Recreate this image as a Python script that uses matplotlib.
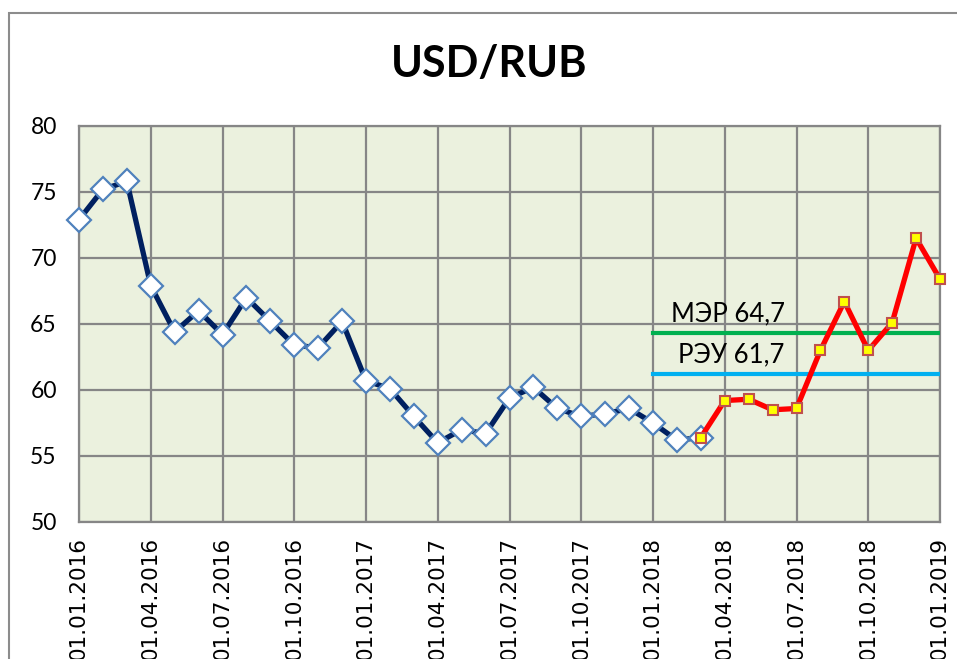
import matplotlib
matplotlib.use("Agg")
import matplotlib.pyplot as plt
from matplotlib.patches import Rectangle

# ---- data ----
months_hist = list(range(0, 27))          # 01.01.2016 .. 01.03.2018 (monthly index)
usd_hist = [72.9, 75.2, 75.8, 67.9, 64.4, 66.0, 64.2, 67.0, 65.2, 63.4, 63.2, 65.2,
            60.7, 60.1, 58.0, 56.0, 57.0, 56.7, 59.4, 60.2, 58.6, 58.0, 58.2, 58.6,
            57.5, 56.2, 56.4]
months_new = list(range(26, 37))          # 01.03.2018 .. 01.01.2019
usd_new = [56.4, 59.2, 59.3, 58.5, 58.6, 63.0, 66.7, 63.0, 65.1, 71.5, 68.4]
forecast_span = [24, 36]
mer_level = 64.3
reu_level = 61.2
mer_label = "МЭР 64,7"
reu_label = "РЭУ 61,7"
tick_pos = list(range(0, 37, 3))
tick_labels = ["01.01.2016", "01.04.2016", "01.07.2016", "01.10.2016",
               "01.01.2017", "01.04.2017", "01.07.2017", "01.10.2017",
               "01.01.2018", "01.04.2018", "01.07.2018", "01.10.2018",
               "01.01.2019"]
y_ticks = [50, 55, 60, 65, 70, 75, 80]

W, H = 957, 659
fig = plt.figure(figsize=(W / 100, H / 100), dpi=100)
fig.patch.set_facecolor("white")

# outer frame
fig.add_artist(Rectangle((9 / W, -0.1), 1.2, (H - 13) / H + 0.1, transform=fig.transFigure,
                         fill=False, edgecolor="#8c8c8c", linewidth=1.5))

left, right, top, bottom = 79, 940, 126, 522
ax = fig.add_axes([left / W, (H - bottom) / H, (right - left) / W, (bottom - top) / H])
ax.set_facecolor("#EBF1DE")

ax.set_xlim(0, 36)
ax.set_ylim(50, 80)
ax.set_xticks(tick_pos)
ax.set_xticklabels(tick_labels, rotation=90, fontsize=15.5, family="DejaVu Sans",
                   color="#000000", va="top")
ax.set_yticks(y_ticks)
ax.set_yticklabels([str(v) for v in y_ticks], fontsize=16.5, family="Lato")
ax.tick_params(axis="both", length=0)
ax.tick_params(axis="x", pad=10.5)
ax.tick_params(axis="y", pad=16)
ax.grid(True, color="#868686", linewidth=1.6)
ax.set_axisbelow(True)
for s in ax.spines.values():
    s.set_color("#868686")
    s.set_linewidth(1.6)

ax.plot(forecast_span, [mer_level, mer_level], color="#00B050", linewidth=3, zorder=3)
ax.plot(forecast_span, [reu_level, reu_level], color="#00B0F0", linewidth=3, zorder=3)

ax.plot(months_hist, usd_hist, color="#002060", linewidth=3.8, marker="D",
        markersize=12, markerfacecolor="white", markeredgecolor="#4F81BD",
        markeredgewidth=1.6, zorder=4, clip_on=False)
ax.plot(months_new, usd_new, color="#FF0000", linewidth=3.8, marker="s",
        markersize=7.5, markerfacecolor="#FFFF00", markeredgecolor="#C0504D",
        markeredgewidth=1.5, zorder=5, clip_on=False)

ax.text(29.5, mer_level + 0.5, mer_label, ha="right", va="bottom", fontsize=18.5,
        family="Lato", zorder=6)
ax.text(29.5, reu_level + 0.5, reu_label, ha="right", va="bottom", fontsize=18.5,
        family="Lato", zorder=6)

fig.text(489 / W, 1 - 64 / H, "USD/RUB", ha="center", va="center", fontsize=31,
         fontweight="bold", family="Lato")

fig.savefig("out.png", dpi=100)
